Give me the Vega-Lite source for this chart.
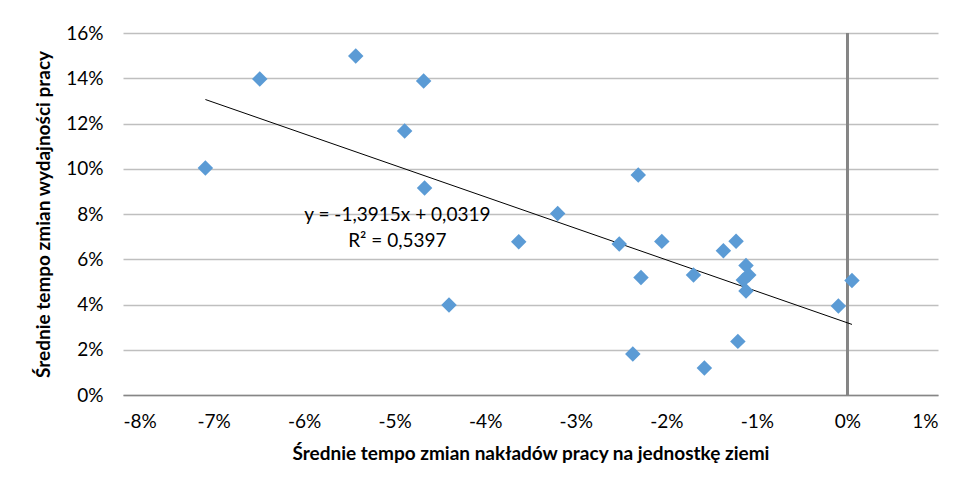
{
  "$schema": "https://vega.github.io/schema/vega-lite/v6.json",
  "width": 815,
  "height": 362,
  "autosize": {"type": "none"},
  "padding": {"left": 123, "top": 33, "right": 28, "bottom": 90},
  "background": "white",
  "config": {
    "view": {"stroke": null},
    "font": "Lato",
    "axis": {"labelFont": "Lato", "titleFont": "Lato", "labelColor": "#000000", "titleColor": "#000000"}
  },
  "datasets": {
    "pts": [
      {"x": -0.0709, "y": 0.1003},
      {"x": -0.0649, "y": 0.1397},
      {"x": -0.0543, "y": 0.1498},
      {"x": -0.0468, "y": 0.1388},
      {"x": -0.0489, "y": 0.1167},
      {"x": -0.0467, "y": 0.0915},
      {"x": -0.0440, "y": 0.0398},
      {"x": -0.0363, "y": 0.0677},
      {"x": -0.0320, "y": 0.0802},
      {"x": -0.0252, "y": 0.0667},
      {"x": -0.0231, "y": 0.0972},
      {"x": -0.0205, "y": 0.0679},
      {"x": -0.0228, "y": 0.0519},
      {"x": -0.0237, "y": 0.0181},
      {"x": -0.0170, "y": 0.0530},
      {"x": -0.0158, "y": 0.0119},
      {"x": -0.0137, "y": 0.0638},
      {"x": -0.0123, "y": 0.0680},
      {"x": -0.0121, "y": 0.0237},
      {"x": -0.0112, "y": 0.0572},
      {"x": -0.0109, "y": 0.0530},
      {"x": -0.0115, "y": 0.0508},
      {"x": -0.0112, "y": 0.0460},
      {"x": -0.0010, "y": 0.0393},
      {"x": 0.0005, "y": 0.0506}
    ],
    "trend": [
      {"x": -0.0709, "y": 0.1306},
      {"x": 0.0005, "y": 0.0312}
    ],
    "labels": [
      {"x": -0.0497, "y": 0.0796, "t": "y = -1,3915x + 0,0319"},
      {"x": -0.0497, "y": 0.0681, "t": "R² = 0,5397"}
    ]
  },
  "layer": [
    {
      "data": {"name": "pts"},
      "mark": {"type": "rule", "color": "#868686", "strokeWidth": 1.5},
      "encoding": {
        "x": {"datum": 0, "type": "quantitative", "scale": {"domain": [-0.08, 0.01]}}
      }
    },
    {
      "data": {"name": "trend"},
      "mark": {"type": "line", "color": "#000000", "strokeWidth": 1},
      "encoding": {
        "x": {"field": "x", "type": "quantitative"},
        "y": {"field": "y", "type": "quantitative"}
      }
    },
    {
      "data": {"name": "pts"},
      "mark": {"type": "point", "shape": "diamond", "filled": true, "color": "#5B9BD5", "opacity": 1, "size": 240},
      "encoding": {
        "x": {
          "field": "x", "type": "quantitative",
          "scale": {"domain": [-0.08, 0.01], "nice": false, "zero": false},
          "axis": {
            "values": [-0.08, -0.07, -0.06, -0.05, -0.04, -0.03, -0.02, -0.01, 0, 0.01],
            "labelExpr": "replace(format(datum.value, '.0%'), '−', '-')",
            "grid": false, "ticks": false, "domainColor": "#868686", "domainWidth": 1.5,
            "labelFontSize": 19, "labelPadding": 17,
            "title": "Średnie tempo zmian nakładów pracy na jednostkę ziemi",
            "titleFontSize": 19, "titleFontWeight": "bold", "titlePadding": 13
          }
        },
        "y": {
          "field": "y", "type": "quantitative",
          "scale": {"domain": [0, 0.16], "nice": false},
          "axis": {
            "format": ".0%", "values": [0, 0.02, 0.04, 0.06, 0.08, 0.1, 0.12, 0.14, 0.16],
            "grid": true, "gridColor": "#BFBFBF", "gridWidth": 1.5, "ticks": false, "domain": false,
            "labelFontSize": 19, "labelPadding": 20,
            "title": "Średnie tempo zmian wydajności pracy",
            "titleFontSize": 19, "titleFontWeight": "bold", "titlePadding": 12
          }
        }
      }
    },
    {
      "data": {"name": "labels"},
      "mark": {"type": "text", "fontSize": 19, "font": "Lato", "color": "#000000"},
      "encoding": {
        "x": {"field": "x", "type": "quantitative"},
        "y": {"field": "y", "type": "quantitative"},
        "text": {"field": "t"}
      }
    }
  ]
}
